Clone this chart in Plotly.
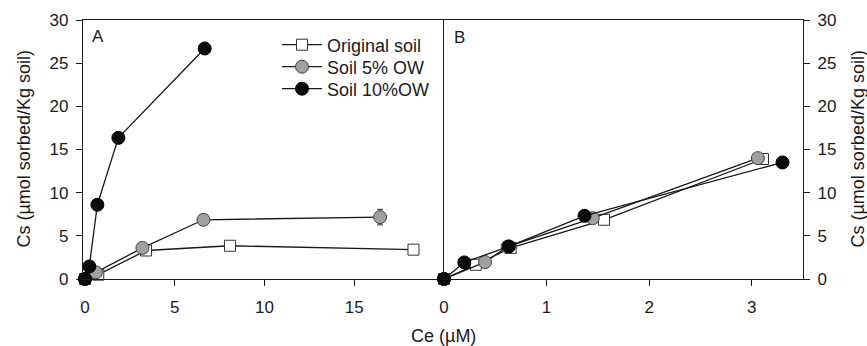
import plotly.graph_objects as go

# ---- Data ----
series_names = ["Original soil", "Soil 5% OW", "Soil 10%OW"]

# Panel A
a_orig_x = [0, 0.74, 3.4, 8.08, 18.3]
a_orig_y = [0, 0.5, 3.3, 3.85, 3.4]
a_5_x = [0, 0.61, 3.2, 6.6, 16.44]
a_5_y = [0, 0.77, 3.6, 6.86, 7.17]
a_5_err = [0, 0, 0, 0, 0.9]
a_10_x = [0, 0.24, 0.69, 1.86, 6.67]
a_10_y = [0, 1.46, 8.6, 16.35, 26.7]

# Panel B
b_orig_x = [0, 0.31, 0.65, 1.56, 3.11]
b_orig_y = [0, 1.65, 3.6, 6.86, 13.9]
b_5_x = [0, 0.40, 0.62, 1.45, 3.06]
b_5_y = [0, 1.96, 3.75, 7.05, 14.0]
b_10_x = [0, 0.198, 0.633, 1.37, 3.30]
b_10_y = [0, 1.92, 3.77, 7.32, 13.5]

a_xticks = [0, 5, 10, 15]
b_xticks = [0, 1, 2, 3]
y_ticks = [0, 5, 10, 15, 20, 25, 30]

FONT = "Liberation Sans, Arial, sans-serif"
LINE = dict(color="#1a1a1a", width=1.3)

sq = dict(symbol="square", size=11, color="white", line=dict(color="#333333", width=1))
gc = dict(symbol="circle", size=13, color="#a0a0a0", line=dict(color="#444444", width=1))
bc = dict(symbol="circle", size=13, color="#0a0a0a", line=dict(color="#000000", width=1))

L, T, W, H = 83, 20, 720, 259

fig = go.Figure()

# Panel A
fig.add_trace(go.Scatter(x=a_orig_x, y=a_orig_y, mode="lines+markers", name=series_names[0],
                         line=LINE, marker=sq, cliponaxis=False, xaxis="x", yaxis="y",
                         legend="legend"))
fig.add_trace(go.Scatter(x=a_5_x, y=a_5_y, mode="lines+markers", name=series_names[1],
                         line=LINE, marker=gc, cliponaxis=False, xaxis="x", yaxis="y",
                         legend="legend2",
                         error_y=dict(type="data", array=a_5_err, color="#555555",
                                      thickness=1.3, width=3)))
fig.add_trace(go.Scatter(x=a_10_x, y=a_10_y, mode="lines+markers", name=series_names[2],
                         line=LINE, marker=bc, cliponaxis=False, xaxis="x", yaxis="y",
                         legend="legend3"))

# Panel B
fig.add_trace(go.Scatter(x=b_orig_x, y=b_orig_y, mode="lines+markers", name=series_names[0],
                         line=LINE, marker=sq, cliponaxis=False, showlegend=False,
                         xaxis="x2", yaxis="y2"))
fig.add_trace(go.Scatter(x=b_5_x, y=b_5_y, mode="lines+markers", name=series_names[1],
                         line=LINE, marker=gc, cliponaxis=False, showlegend=False,
                         xaxis="x2", yaxis="y2"))
fig.add_trace(go.Scatter(x=b_10_x, y=b_10_y, mode="lines+markers", name=series_names[2],
                         line=LINE, marker=bc, cliponaxis=False, showlegend=False,
                         xaxis="x2", yaxis="y2"))

split = (444 - L) / W

axis_common = dict(showline=True, linecolor="#1a1a1a", linewidth=1.3,
                   ticks="outside", ticklen=6, tickwidth=1.3, tickcolor="#1a1a1a",
                   showgrid=False, zeroline=False,
                   tickfont=dict(family=FONT, size=17, color="#1a1a1a"))


def px(xp):
    return (xp - L) / W


def py(yp):
    return (T + H - yp) / H


def leg(yc):
    return dict(x=px(277), y=py(yc), xanchor="left", yanchor="middle",
                bgcolor="rgba(0,0,0,0)", borderwidth=0,
                font=dict(family=FONT, size=18, color="#1a1a1a"), itemwidth=40)


fig.update_layout(
    width=867, height=346,
    margin=dict(l=L, r=867 - L - W, t=T, b=346 - T - H),
    paper_bgcolor="white", plot_bgcolor="white",
    font=dict(family=FONT, size=17, color="#1a1a1a"),
    xaxis=dict(domain=[0, split], range=[-0.11, 20], tickvals=a_xticks, anchor="y",
               mirror=True, ticklabelstandoff=6, **axis_common),
    yaxis=dict(domain=[0, 1], range=[0, 30], tickvals=y_ticks, anchor="x",
               mirror=False, ticklabelstandoff=4, **axis_common),
    xaxis2=dict(domain=[split, 1], range=[0, 3.5], tickvals=b_xticks, anchor="y2",
                mirror=True, ticklabelstandoff=6, **axis_common),
    yaxis2=dict(domain=[0, 1], range=[0, 30], tickvals=y_ticks, anchor="x2", side="right",
                mirror=True, ticklabelstandoff=4, **axis_common),
    showlegend=True,
    legend=leg(45),
    legend2=leg(67),
    legend3=leg(89),
    annotations=[
        dict(text="A", x=px(98), y=py(36), xref="paper", yref="paper",
             showarrow=False, font=dict(family=FONT, size=17), xanchor="center", yanchor="middle"),
        dict(text="B", x=px(459), y=py(37), xref="paper", yref="paper",
             showarrow=False, font=dict(family=FONT, size=17), xanchor="center", yanchor="middle"),
        dict(text="Ce (µM)", x=px(443), y=py(336), xref="paper", yref="paper",
             showarrow=False, font=dict(family=FONT, size=18), xanchor="center", yanchor="middle"),
        dict(text="Cs (µmol sorbed/Kg soil)", x=px(23), y=0.5, xref="paper", yref="paper",
             showarrow=False, textangle=-90, font=dict(family=FONT, size=18),
             xanchor="center", yanchor="middle"),
        dict(text="Cs (µmol sorbed/Kg soil)", x=px(857), y=0.5, xref="paper", yref="paper",
             showarrow=False, textangle=-90, font=dict(family=FONT, size=18),
             xanchor="center", yanchor="middle"),
    ],
)

fig.write_html("out.html", config={"displayModeBar": False},
               post_script="document.body.style.margin='0';document.body.style.overflow='hidden';")
